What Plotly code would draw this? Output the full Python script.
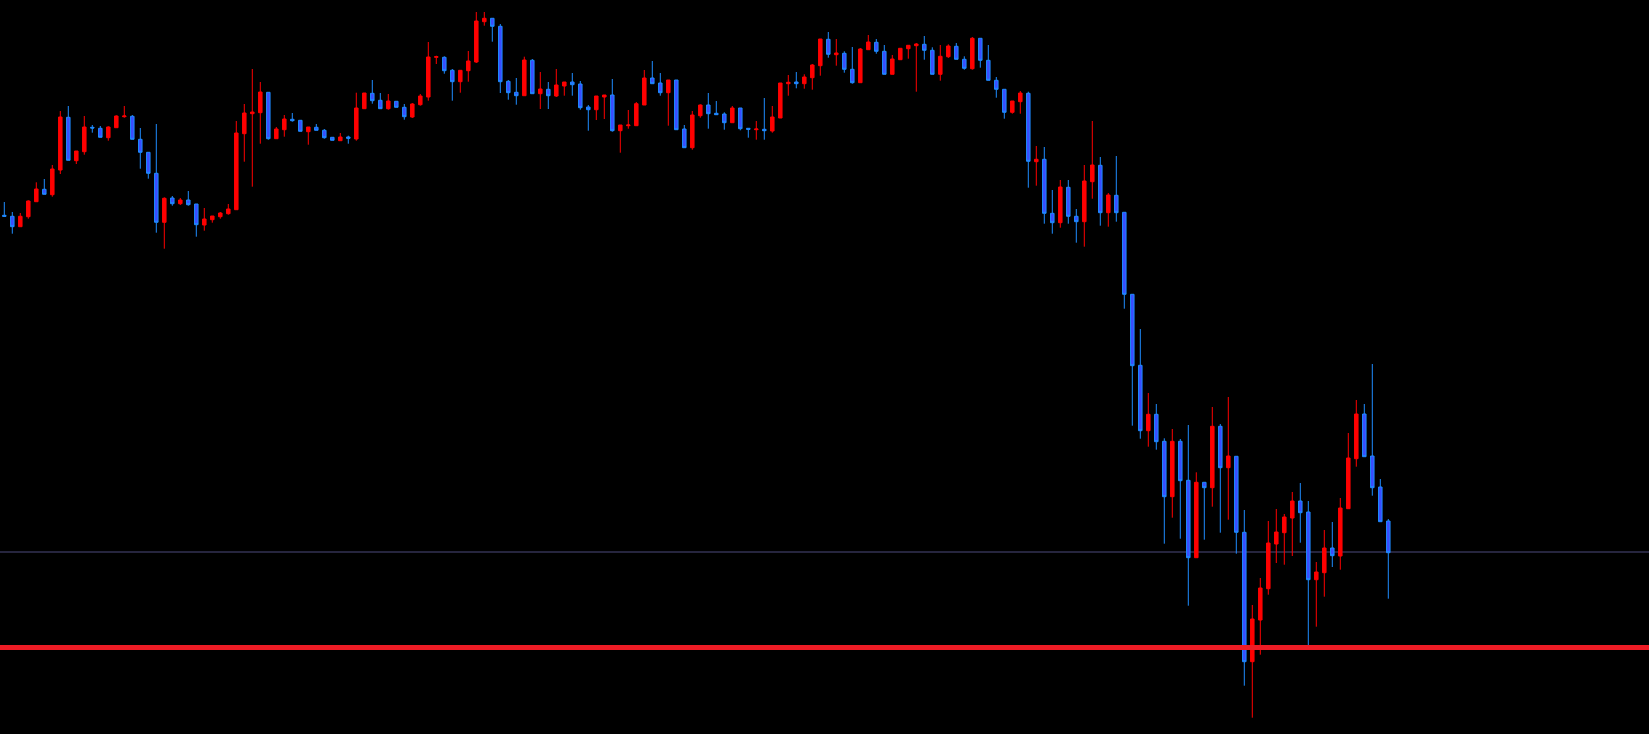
import plotly.graph_objects as go

# OHLC values (arbitrary price units)
opens = [518.7,517.7,507.3,517.3,532.3,544.7,539.3,564.0,616.7,573.3,582.3,606.7,605.7,596.3,606.3,617.3,617.7,594.7,581.7,560.7,511.7,
         536.0,530.3,534.0,530.0,509.0,514.3,517.3,520.3,524.3,600.3,620.3,621.3,641.7,595.3,604.3,614.7,613.7,602.3,606.7,603.7,596.7,593.3,597.0,595.0,
         625.3,640.7,633.7,625.3,632.7,626.7,617.0,629.3,637.0,676.7,676.7,663.7,652.3,663.3,672.0,712.3,715.7,707.7,652.7,641.7,638.3,
         673.7,640.3,644.7,638.0,648.0,652.0,650.0,627.0,624.3,637.0,639.0,603.3,608.3,608.3,629.0,656.0,651.0,641.3,654.0,605.0,586.3,
         618.3,629.0,620.7,620.0,611.3,626.0,605.7,604.3,604.7,603.0,616.0,650.3,652.0,650.3,656.3,668.3,694.7,679.3,680.7,664.7,651.3,684.3,
         691.7,682.7,659.7,674.3,685.3,688.3,689.7,683.7,659.7,677.3,687.7,674.7,665.3,695.7,673.7,653.7,644.7,621.7,632.3,640.7,572.3,574.7,
         520.7,511.3,546.7,517.7,512.3,552.3,568.7,521.3,538.7,521.7,439.7,368.7,
         303.3,319.7,292.7,237.3,292.7,253.7,176.3,251.7,246.3,307.7,266.3,277.7,201.7,72.3,114.0,
         145.3,190.0,201.3,216.0,233.0,222.0,154.3,161.3,186.0,178.0,225.3,275.3,320.0,278.0,247.0,213.0]
highs = [532.0,522.0,521.0,533.7,551.7,555.0,569.0,623.0,628.0,583.0,618.0,609.0,608.0,607.7,618.7,628.0,619.0,606.0,581.7,610.0,536.7,
         538.0,536.0,543.0,530.0,526.0,518.0,522.0,530.0,613.0,630.0,665.0,652.0,641.7,607.0,619.0,621.0,613.7,607.0,610.0,605.0,596.7,601.0,598.3,641.3,
         641.0,654.0,641.0,640.0,632.7,630.0,631.0,640.0,692.0,678.3,677.7,665.0,663.7,683.0,722.0,722.0,715.7,710.0,654.0,656.0,677.3,
         675.0,662.0,652.0,665.0,652.0,661.0,653.0,629.0,638.0,639.0,655.0,609.0,624.0,632.0,664.0,673.0,661.0,654.0,654.0,609.0,623.0,
         629.7,641.0,633.0,621.7,628.0,626.0,605.7,613.0,636.0,628.0,651.0,659.0,662.0,659.7,670.0,695.0,702.0,695.0,682.7,687.0,686.0,699.0,
         695.0,689.0,679.0,685.7,688.7,691.0,698.0,686.7,689.0,689.7,691.0,677.7,697.0,695.7,689.0,657.0,644.7,633.0,643.0,642.3,588.0,587.0,
         544.0,554.0,554.0,525.0,569.0,613.0,577.0,541.0,578.0,521.7,439.7,405.0,
         341.0,330.0,295.7,305.0,295.0,309.0,261.7,251.7,327.0,310.0,337.0,277.7,224.0,129.0,156.0,
         213.0,225.0,220.0,242.0,251.0,233.0,172.0,204.0,212.0,236.0,301.0,334.0,330.0,370.0,255.0,215.0]
lows = [517.3,500.3,507.3,515.3,532.3,539.7,537.3,560.0,573.7,570.0,579.3,601.3,596.7,593.3,606.3,616.3,594.7,565.3,555.3,501.3,485.3,
        528.3,529.0,528.3,497.3,503.3,511.3,515.3,519.3,524.3,572.3,547.3,590.3,594.3,595.3,597.3,612.3,602.7,589.3,603.7,595.3,593.7,593.3,590.3,593.3,
        625.3,630.3,625.3,624.3,626.7,614.3,616.0,628.3,633.3,670.0,660.3,633.3,641.3,652.3,671.0,708.3,692.3,641.0,634.3,629.3,638.3,
        640.3,625.0,625.0,637.0,638.3,638.3,624.3,603.3,614.0,615.0,602.3,581.3,605.3,608.3,629.0,650.3,638.3,608.3,604.3,586.3,584.3,
        616.3,605.3,619.3,604.3,611.3,603.7,596.3,594.3,594.3,601.3,616.0,638.3,645.7,645.3,644.3,658.3,676.3,668.3,661.3,650.3,651.3,684.3,
        680.3,659.7,659.7,674.3,675.3,642.3,674.3,659.7,653.3,676.0,674.7,664.3,664.3,666.3,653.7,636.3,615.3,620.3,620.3,546.3,548.3,510.3,
        500.3,506.3,510.3,491.3,487.3,535.3,508.3,507.3,512.3,425.3,308.3,295.3,
        287.3,284.3,190.3,216.3,195.3,128.3,176.3,194.3,227.3,201.3,214.3,180.3,48.3,16.3,79.3,
        139.3,171.0,169.3,178.0,191.3,89.0,107.3,137.3,167.0,164.3,225.3,267.3,277.3,238.3,212.3,135.3]
closes = [517.7,507.3,517.7,533.0,545.0,539.7,565.0,617.0,573.7,583.0,607.0,606.0,596.7,607.0,618.0,618.0,594.7,581.7,560.7,511.7,535.7,
          530.3,534.0,529.3,509.3,515.0,518.0,521.0,525.0,601.0,621.0,622.0,642.0,595.3,605.0,615.0,613.3,602.7,607.0,603.7,596.3,593.7,597.0,595.7,626.0,
          641.0,633.3,625.3,633.0,626.7,617.3,630.0,638.0,677.0,677.3,663.3,652.3,663.7,673.0,713.0,715.7,707.7,652.3,641.3,638.3,674.0,
          640.3,645.0,638.3,649.0,652.0,649.3,626.3,624.3,638.0,639.0,603.3,609.0,609.0,630.3,656.0,650.3,641.3,654.0,604.3,586.3,619.0,
          629.0,620.3,619.3,611.3,626.0,605.3,604.7,605.0,603.3,617.0,651.0,651.7,650.3,657.0,669.0,695.0,679.7,681.0,664.7,651.3,685.0,692.0,
          682.7,659.7,675.0,685.7,688.7,690.0,683.7,659.7,677.7,688.0,674.7,665.7,695.7,673.7,653.7,644.7,621.7,633.0,641.0,572.7,574.7,520.7,
          511.3,547.0,517.7,512.3,553.0,569.0,521.3,539.0,521.3,439.7,368.3,303.3,
          319.7,292.3,237.3,292.7,253.3,176.3,251.7,246.3,307.7,266.3,278.0,201.7,72.3,115.0,146.0,
          191.0,202.0,217.0,233.0,221.3,154.3,162.0,186.0,178.3,226.0,276.0,320.0,277.3,246.3,212.3,181.3]

support_level = 86.5   # thick red horizontal line
mid_level = 182.0      # thin grey horizontal line

bars = list(range(len(opens)))

fig = go.Figure()
fig.add_trace(go.Candlestick(
    x=bars, open=opens, high=highs, low=lows, close=closes,
    increasing=dict(line=dict(color="#ff0000", width=1), fillcolor="#ff0000"),
    decreasing=dict(line=dict(color="#1e8cff", width=1), fillcolor="#3a4cff"),
    whiskerwidth=0,
    hoverinfo="skip",
))

fig.add_hline(y=mid_level, line=dict(color="#4c4a7c", width=1), layer="below")
fig.add_hline(y=support_level, line=dict(color="#ee1c25", width=5), layer="above")

fig.update_layout(
    width=1649, height=734,
    margin=dict(l=0, r=0, t=0, b=0),
    paper_bgcolor="#000000", plot_bgcolor="#000000",
    showlegend=False,
    boxgap=0.375,
    xaxis=dict(visible=False, range=[-0.5375, 205.5875], rangeslider=dict(visible=False),
               showgrid=False, zeroline=False, fixedrange=True),
    yaxis=dict(visible=False, range=[0, 734], showgrid=False, zeroline=False, fixedrange=True),
)

fig.write_html("out.html", config={"displayModeBar": False},
               post_script="document.body.style.margin='0';document.body.style.background='#000';")
